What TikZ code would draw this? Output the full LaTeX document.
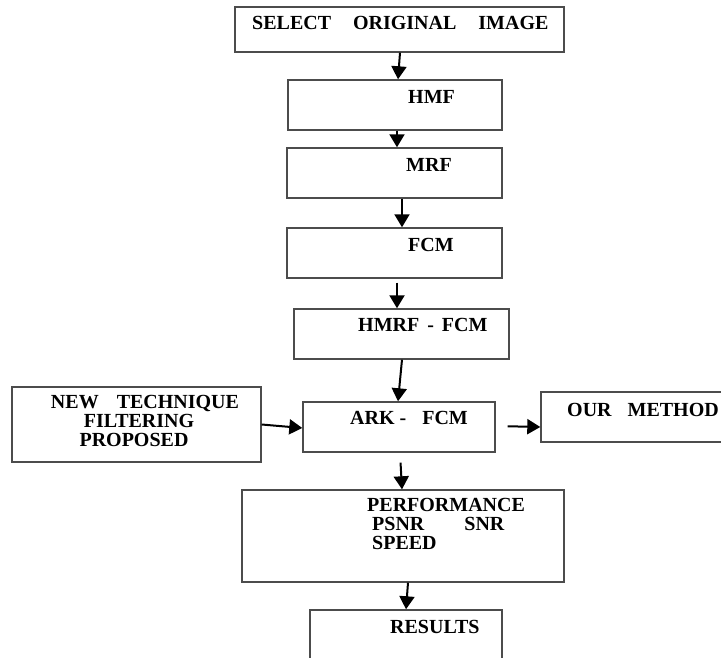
\documentclass[tikz,border=0pt]{standalone}
\usepackage{fontspec}
\setmainfont{Liberation Serif}
\usetikzlibrary{arrows.meta}
\begin{document}
\begin{tikzpicture}[x=1pt,y=-1pt,
  box/.style={draw=black!70, line width=1.4pt, rectangle, inner sep=0pt},
  lbl/.style={inner sep=0pt, anchor=base west, font=\fontsize{20}{19}\selectfont\bfseries},
  arr/.style={-{Triangle[width=15pt,length=13pt]}, line width=2pt, black}]
\useasboundingbox (0,0) rectangle (721,658);
\clip (0,0) rectangle (721,658);
% boxes
\node[box, minimum width=329pt, minimum height=45pt] (sel) at (399.5,29.5) {};
\node[box, minimum width=214pt, minimum height=50pt] (hmf) at (395,105) {};
\node[box, minimum width=215pt, minimum height=50pt] (mrf) at (394.5,173) {};
\node[box, minimum width=215pt, minimum height=50pt] (fcm) at (394.5,253) {};
\node[box, minimum width=215pt, minimum height=50pt] (hmrf) at (401.5,334) {};
\node[box, minimum width=249pt, minimum height=75pt] (new) at (136.5,424.5) {};
\node[box, minimum width=192pt, minimum height=50pt] (ark) at (399,427) {};
\node[box, minimum width=200pt, minimum height=50pt] (our) at (641,417) {};
\node[box, minimum width=322pt, minimum height=92pt] (perf) at (403,536) {};
\node[box, minimum width=192pt, minimum height=60pt] (res) at (406,640) {};
% texts
\node[lbl] (tsel) at (252,29.5) {SELECT\hspace{22pt}ORIGINAL\hspace{22pt}IMAGE};
\node[lbl] (thmf) at (408,103.5) {HMF};
\node[lbl] (tmrf) at (406,171.5) {MRF};
\node[lbl] (tfcm) at (408,251.5) {FCM};
\node[lbl] (thmrf) at (358,331.5) {HMRF\hspace{8pt}-\hspace{8pt}FCM};
\node[lbl] (tark) at (350,424.5) {ARK -\hspace{16pt}FCM};
\node[lbl] (tour) at (567,416.5) {OUR\hspace{16pt}METHOD};
\node[lbl, anchor=center, align=center] (tnew) at (145,421) {NEW\hspace{18pt}TECHNIQUE\\[0pt]\hspace{-12pt}FILTERING\\[0pt]\hspace{-22pt}PROPOSED};
\node[lbl, anchor=north west, align=left] (tperf) at (367,498.5) {PERFORMANCE\\[0pt]\hspace{5pt}PSNR\hspace{40pt}SNR\\[0pt]\hspace{5pt}SPEED};
\node[lbl] (tres) at (390,633.5) {RESULTS};
% connectors
\draw[arr] ([xshift=0.5pt]sel.south) -- ([xshift=3pt]hmf.north);
\draw[arr] ([xshift=2pt]hmf.south) -- ([xshift=2.5pt]mrf.north);
\draw[arr] ([xshift=7.5pt]mrf.south) -- ([xshift=7.5pt]fcm.north);
\draw[arr, shorten <=4pt] ([xshift=2.5pt]fcm.south) -- ([xshift=-4.5pt]hmrf.north);
\draw[arr] ([xshift=0.5pt]hmrf.south) -- ([xshift=-1pt]ark.north);
\draw[arr] (new.east) -- ([yshift=-1pt]ark.west);
\draw[arr, shorten <=12pt] ([yshift=1pt]ark.east) -- ([yshift=-10pt]our.west);
\draw[arr, shorten <=10pt] ([xshift=1pt]ark.south) -- ([xshift=-1pt]perf.north);
\draw[arr] ([xshift=5pt]perf.south) -- (res.north);
\end{tikzpicture}
\end{document}
